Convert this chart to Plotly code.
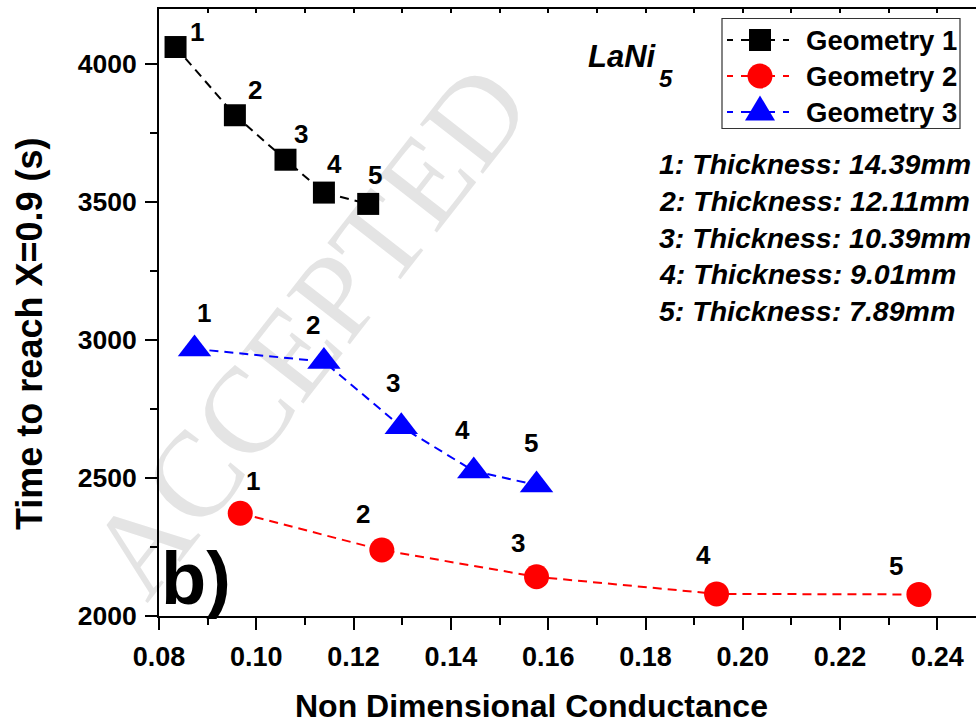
import plotly.graph_objects as go

# Non-dimensional conductance and time to reach X=0.9 for the three geometries
g1_x = [0.0834, 0.0956, 0.1060, 0.1139, 0.1230]
g1_y = [4060, 3813, 3652, 3533, 3492]
g2_x = [0.0967, 0.1258, 0.1576, 0.1946, 0.2362]
g2_y = [2372, 2239, 2142, 2080, 2078]
g3_x = [0.0873, 0.1139, 0.1298, 0.1447, 0.1576]
g3_y = [2967, 2921, 2685, 2525, 2474]

point_labels = ["1", "2", "3", "4", "5"]
series_names = ["Geometry 1", "Geometry 2", "Geometry 3"]
thickness_notes = [
    "1: Thickness: 14.39mm",
    "2: Thickness: 12.11mm",
    "3: Thickness: 10.39mm",
    "4: Thickness: 9.01mm",
    "5: Thickness: 7.89mm",
]
x_ticks = [0.08, 0.10, 0.12, 0.14, 0.16, 0.18, 0.20, 0.22, 0.24]
x_minor = [0.09, 0.11, 0.13, 0.15, 0.17, 0.19, 0.21, 0.23]
y_ticks = [2000, 2500, 3000, 3500, 4000]
y_minor = [2250, 2750, 3250, 3750]

W, H = 976, 723
L, R, T, B = 159, 0, 9, 107
PW, PH = W - L - R, H - T - B

FONT = "Liberation Sans, Arial, sans-serif"


def px(x):
    return (x - L) / PW


def py(y):
    return (H - B - y) / PH


fig = go.Figure()

series = [
    (g1_x, g1_y, "black", "square", 22),
    (g2_x, g2_y, "#ff0000", "circle", 25),
    (g3_x, g3_y, "#0000ff", "triangle-up", 29),
]
for (xs, ys, col, sym, size), name in zip(series, series_names):
    fig.add_trace(go.Scatter(
        x=xs, y=ys, name=name, mode="lines+markers",
        line=dict(color=col, width=2, dash="9px,6px"),
        marker=dict(symbol=sym, size=size, color=col, line=dict(width=0)),
        showlegend=False, cliponaxis=False,
    ))

# dummy trace so the top axis is rendered
fig.add_trace(go.Scatter(x=[g1_x[0]], y=[g1_y[0]], xaxis="x2", mode="markers",
                         marker=dict(opacity=0), showlegend=False, hoverinfo="skip"))

annotations = []

# point number labels, offset (px) from each marker
label_offsets = [
    [(21, -13), (20, -23), (16, -24), (11, -27), (7, -27)],
    [(13, -30), (-19, -34), (-19, -32), (-13, -37), (-23, -26)],
    [(9, -34), (-11, -35), (-8, -42), (-11, -39), (-6, -40)],
]
for (xs, ys, *_), offs in zip(series, label_offsets):
    for xv, yv, lab, (dx, dy) in zip(xs, ys, point_labels, offs):
        annotations.append(dict(
            x=xv, y=yv, xref="x", yref="y", text=lab, showarrow=False,
            xshift=dx, yshift=-dy + 2,
            font=dict(family=FONT, size=26, color="black", weight="bold"),
        ))

# axis titles
annotations.append(dict(
    x=px(531), y=py(706), xref="paper", yref="paper", showarrow=False,
    text="Non Dimensional Conductance", xanchor="center", yanchor="middle",
    font=dict(family=FONT, size=32, color="black", weight="bold"),
))
annotations.append(dict(
    x=px(30), y=py(334), xref="paper", yref="paper", showarrow=False,
    text="Time to reach X=0.9 (s)", textangle=-90, xanchor="center", yanchor="middle",
    font=dict(family=FONT, size=36, color="black", weight="bold"),
))

# panel tag
annotations.append(dict(
    x=px(196), y=py(578), xref="paper", yref="paper", showarrow=False,
    text="b)", xanchor="center", yanchor="middle",
    font=dict(family=FONT, size=74, color="black", weight="bold"),
))

# material label
annotations.append(dict(
    x=px(586), y=py(57), xref="paper", yref="paper", showarrow=False,
    text="LaNi", xanchor="left", yanchor="middle",
    font=dict(family=FONT, size=31, color="black", weight="bold", style="italic"),
))
annotations.append(dict(
    x=px(666), y=py(78), xref="paper", yref="paper", showarrow=False,
    text="5", xanchor="center", yanchor="middle",
    font=dict(family=FONT, size=24, color="black", weight="bold", style="italic"),
))

# thickness notes
note_rows = [164, 201, 238, 274, 311]
for txt, yy in zip(thickness_notes, note_rows):
    annotations.append(dict(
        x=px(657), y=py(yy), xref="paper", yref="paper", showarrow=False,
        text=txt, xanchor="left", yanchor="middle",
        font=dict(family=FONT, size=28.5, color="black", weight="bold", style="italic"),
    ))

shapes = []

# faint diagonal stamp behind the data
shapes.append(dict(
    type="rect", xref="paper", yref="paper", layer="below",
    x0=px(290), x1=px(306), y0=py(330), y1=py(314),
    line=dict(width=0), fillcolor="rgba(0,0,0,0)",
    label=dict(text="ACCEPTED", textangle=-52, textposition="middle center",
               font=dict(family="Liberation Serif, Times New Roman, serif", size=122,
                         color="#e4e4e4")),
))

# legend box
shapes.append(dict(
    type="rect", xref="paper", yref="paper",
    x0=px(722), x1=px(960), y0=py(128.5), y1=py(18.5),
    line=dict(color="#333333", width=1.2), fillcolor="white",
))
legend_rows = [40, 76, 112]
legend_cols = ["black", "#ff0000", "#0000ff"]
for name, yy, col in zip(series_names, legend_rows, legend_cols):
    shapes.append(dict(
        type="line", xref="paper", yref="paper",
        x0=px(727), x1=px(797), y0=py(yy), y1=py(yy),
        line=dict(color=col, width=2, dash="6px,8px"),
    ))
    annotations.append(dict(
        x=px(804), y=py(yy + 1), xref="paper", yref="paper", showarrow=False,
        text=name, xanchor="left", yanchor="middle",
        font=dict(family=FONT, size=27.5, color="black", weight="bold"),
    ))
    shapes.append(dict(
        type="line", xref="paper", yref="paper",
        x0=px(745), x1=px(775), y0=py(yy), y1=py(yy),
        line=dict(color=col, width=2),
    ))

mx = px(760)
shapes.append(dict(
    type="rect", xref="paper", yref="paper", xsizemode="pixel", ysizemode="pixel",
    xanchor=mx, yanchor=py(legend_rows[0]), x0=-11, x1=11, y0=-11, y1=11,
    line=dict(width=0), fillcolor="black",
))
shapes.append(dict(
    type="circle", xref="paper", yref="paper", xsizemode="pixel", ysizemode="pixel",
    xanchor=mx, yanchor=py(legend_rows[1]), x0=-12.5, x1=12.5, y0=-12.5, y1=12.5,
    line=dict(width=0), fillcolor="#ff0000",
))
shapes.append(dict(
    type="path", xref="paper", yref="paper", xsizemode="pixel", ysizemode="pixel",
    xanchor=mx, yanchor=py(legend_rows[2]),
    path="M-15,-8.5 L15,-8.5 L0,16.5 Z",
    line=dict(width=0), fillcolor="#0000ff",
))

x_hi = 0.08 + (W - L) / (97.3 / 0.02)
y_hi = 2000 + PH * 500 / 138.1

fig.update_layout(
    width=W, height=H, autosize=False,
    margin=dict(l=L, r=R, t=T, b=B, pad=0),
    paper_bgcolor="white", plot_bgcolor="white",
    showlegend=False,
    annotations=annotations,
    shapes=shapes,
    xaxis=dict(
        range=[0.08, x_hi], tickmode="array", tickvals=x_ticks,
        ticktext=[f"{v:.2f}" for v in x_ticks],
        ticks="outside", ticklen=12, tickwidth=2, tickcolor="black",
        showline=True, linewidth=2, linecolor="black",
        showgrid=False, zeroline=False,
        tickfont=dict(family=FONT, size=27, color="black", weight="bold"),
        ticklabelstandoff=4,
        minor=dict(tickmode="array", tickvals=x_minor, ticks="outside",
                   ticklen=7, tickwidth=2, tickcolor="black", showgrid=False),
    ),
    xaxis2=dict(
        range=[0.08, x_hi], overlaying="x", side="top", anchor="y",
        tickmode="array", tickvals=sorted(x_ticks + x_minor),
        ticks="inside", ticklen=4, tickwidth=1.5, tickcolor="black",
        showticklabels=False, showline=True, linewidth=2, linecolor="black",
        showgrid=False, zeroline=False,
    ),
    yaxis=dict(
        range=[2000, y_hi], tickmode="array", tickvals=y_ticks,
        ticktext=[str(v) for v in y_ticks],
        ticks="outside", ticklen=12, tickwidth=2, tickcolor="black",
        showline=True, linewidth=2, linecolor="black",
        showgrid=False, zeroline=False,
        tickfont=dict(family=FONT, size=26.5, color="black", weight="bold"),
        ticklabelstandoff=3,
        minor=dict(tickmode="array", tickvals=y_minor, ticks="outside",
                   ticklen=7, tickwidth=2, tickcolor="black", showgrid=False),
    ),
)

fig.write_html("out.html")
